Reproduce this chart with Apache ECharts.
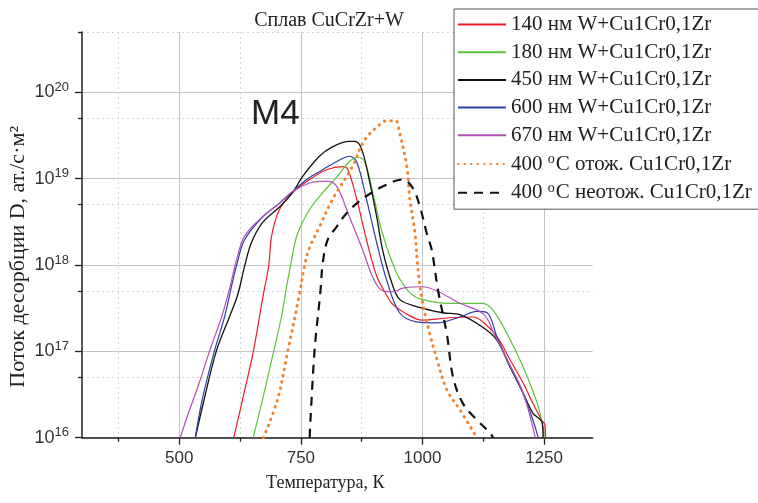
<!DOCTYPE html>
<html><head><meta charset="utf-8">
<script src="https://cdn.jsdelivr.net/npm/echarts@6/dist/echarts.min.js"></script>
<style>html,body{margin:0;padding:0;background:#fff}#c{width:758px;height:503px}</style>
</head><body><div id="c"></div>
<script>
// ---- Data (temperature, K ; desorption flux, at./s·m²) ----
const seriesNames = ['140 нм W+Cu1Cr0,1Zr','180 нм W+Cu1Cr0,1Zr','450 нм W+Cu1Cr0,1Zr','600 нм W+Cu1Cr0,1Zr','670 нм W+Cu1Cr0,1Zr','400 {sup|o}C отож. Cu1Cr0,1Zr','400 {sup|o}C неотож. Cu1Cr0,1Zr'];

const t140 = [612,630,652,671,684,690,706,733,768,803,836,846,865,885,906,926,939,970,999,1056,1104,1124,1153,1180,1207,1227,1245,1252,1253];
const v140 = [1e16,2.75e16,9.8e16,4e17,1e18,2.2e18,4.4e18,6.9e18,9.8e18,1.27e19,1.38e19,1.3e19,5.75e18,1.95e18,7.4e17,4.5e17,3.5e17,2.66e17,2.3e17,2.45e17,2.5e17,2.2e17,1.48e17,8e16,4.3e16,2.5e16,1.6e16,1.4e16,1e16];

const t180 = [652,671,694,710,722,729,743,768,795,824,850,867,881,898,918,947,974,999,1056,1124,1145,1174,1207,1236,1248,1250];
const v180 = [1e16,2.75e16,1e17,2.5e17,6.2e17,1e18,2.3e18,4.4e18,6.9e18,1.05e19,1.58e19,1.76e19,1.58e19,6.9e18,2.3e18,8.1e17,4.8e17,4e17,3.6e17,3.6e17,3e17,1.6e17,6.6e16,2.5e16,1.32e16,1e16];

const t450 = [533,551,576,603,620,634,648,671,706,733,753,788,815,850,861,875,892,906,918,937,953,988,1042,1077,1124,1153,1180,1207,1227,1246,1248];
const v450 = [1e16,2.75e16,1e17,2.5e17,4.5e17,9.5e17,1.8e18,3.1e18,4.7e18,6.9e18,1.05e19,1.82e19,2.34e19,2.7e19,2.7e19,2.2e19,8.9e18,3.6e18,1.5e18,6.2e17,4e17,3.3e17,2.8e17,2.66e17,1.9e17,1.35e17,6.6e16,3.3e16,1.93e16,1.5e16,1e16];

const t600 = [533,547,572,593,609,618,634,671,706,733,762,795,824,850,865,885,906,926,953,988,1030,1077,1112,1133,1153,1174,1201,1225,1238];
const v600 = [1e16,2.75e16,1e17,2.5e17,6.2e17,1e18,1.95e18,3.6e18,5.2e18,7.1e18,9.8e18,1.27e19,1.58e19,1.82e19,1.55e19,5.75e18,1.8e18,6.8e17,2.8e17,2.2e17,2.14e17,2.5e17,2.9e17,2.8e17,1.48e17,8e16,3.9e16,1.74e16,1e16];

const t670 = [502,516,541,562,587,604,615,630,645,671,706,733,768,790,805,824,850,877,897,916,939,960,999,1030,1077,1118,1133,1145,1174,1207,1232];
const v670 = [1e16,1.74e16,4.3e16,1e17,2.5e17,5.5e17,1e18,1.95e18,2.6e18,3.6e18,5.2e18,7.1e18,8.9e18,9.3e18,9.3e18,8.1e18,3.6e18,1.5e18,7.4e17,5.1e17,4.9e17,5.4e17,5.6e17,5e17,3.6e17,2.9e17,2.4e17,1.7e17,8e16,3.3e16,1e16];

const tAnn = [673,702,723,745,758,768,788,815,856,881,918,930,945,953,968,974,984,990,999,1015,1030,1050,1077,1112];
const vAnn = [1e16,2.75e16,1e17,4e17,1e18,1.6e18,2.75e18,5.75e18,1.38e19,2.8e19,4.5e19,4.7e19,4.7e19,3.4e19,1.38e19,5.75e18,2.5e18,1e18,4e17,1.6e17,8e16,3.6e16,2.1e16,1e16];

const tNon = [768,778,790,795,805,823,844,875,918,959,980,995,1009,1019,1032,1050,1063,1083,1112,1139,1145];
const vNon = [1e16,1e17,4.8e17,1.05e18,1.95e18,2.75e18,3.98e18,5.75e18,8.1e18,9.8e18,7.8e18,4.7e18,2.3e18,1.5e18,5.1e17,1.6e17,5e16,2.5e16,1.6e16,1.14e16,1e16];

// ---- Axis ticks ----
const xMajorTicks = [500,750,1000,1250];
const xMinorTicks = [375,625,875,1125];
const yMajorTicks = [1e16,1e17,1e18,1e19,1e20];
const yMinorTicks = [5e16,5e17,5e18,5e19,5e20];
const xMin = 300, xMax = 1350;
const yMin = 1e16, yMax = 5e20;

const L = Math.log10;
const pairs = (t, v) => t.map((x, i) => [x, L(v[i])]);

const serif = 'Liberation Serif';
const sans = 'Liberation Sans';

const styles = [
  {color:'#ee1c24', type:'solid', width:1.2},
  {color:'#5cc43a', type:'solid', width:1.2},
  {color:'#111111', type:'solid', width:1.3},
  {color:'#2b40a8', type:'solid', width:1.2},
  {color:'#b050b8', type:'solid', width:1.2},
  {color:'#f5822c', type:[0.5,6], width:3, cap:'round'},
  {color:'#111111', type:[9,7], width:2.2}
];
const datasets = [pairs(t140,v140),pairs(t180,v180),pairs(t450,v450),pairs(t600,v600),pairs(t670,v670),pairs(tAnn,vAnn),pairs(tNon,vNon)];

const series = datasets.map((d, i) => ({
  name: seriesNames[i], type:'line', data:d, xAxisIndex:0, yAxisIndex:0,
  symbol:'none', smooth:0.35,
  lineStyle: Object.assign({}, styles[i]), itemStyle:{color:styles[i].color},
  z: 3
}));

const chart = echarts.init(document.getElementById('c'), null, {renderer:'canvas'});
chart.setOption({
  animation:false,
  backgroundColor:'#fff',
  grid:{left:82, top:32, right:165.3, bottom:65.3, containLabel:false, outerBoundsMode:'none'},
  title:{text:'Сплав CuCrZr+W', left:324, top:6, textAlign:'center',
    textStyle:{fontFamily:serif, fontSize:20, fontWeight:'normal', color:'#222'}},
  graphic:[{type:'text', left:251, top:97, z:10,
    style:{text:'M4', font:'35px "Liberation Sans"', fill:'#222'}}],
  legend:{
    orient:'vertical', left:454, top:9, padding:[5,40,6,3],
    itemWidth:48, itemHeight:20, itemGap:6.7,
    itemStyle:{opacity:0},
    backgroundColor:'#fff', borderColor:'#555', borderWidth:1,
    textStyle:{fontFamily:serif, fontSize:21, color:'#222', lineHeight:20,
      rich:{sup:{fontFamily:serif, fontSize:14, padding:[0,1,9,0], color:'#222'}}},
    data: seriesNames
  },
  xAxis:[
    {type:'value', min:xMin, max:xMax, position:'bottom',
     name:'Температура, К', nameLocation:'middle', nameGap:37, nameMoveOverlap:false,
     nameTextStyle:{fontFamily:serif, fontSize:18, color:'#222', padding:[0,24,0,0]},
     axisLine:{show:true, onZero:false, lineStyle:{color:'#222', width:1.5}},
     axisTick:{show:true, inside:false, length:7, customValues:xMajorTicks, lineStyle:{color:'#222', width:1.3}},
     axisLabel:{customValues:xMajorTicks, margin:12, fontFamily:sans, fontSize:17, color:'#333', formatter:v => String(v)},
     splitLine:{show:true, lineStyle:{color:'#c4c4c4', width:1}}},
    {type:'value', min:xMin, max:xMax, position:'bottom',
     axisLine:{show:false},
     axisTick:{show:true, inside:false, length:4, customValues:xMinorTicks, lineStyle:{color:'#222', width:1.3}},
     axisLabel:{show:false},
     splitLine:{show:true, lineStyle:{color:'#d4d4d4', width:1, type:[2,3]}}}
  ],
  yAxis:[
    {type:'value', min:L(yMin), max:L(yMax), position:'left',
     name:'Поток десорбции D, ат./с·м²', nameLocation:'middle', nameGap:53, nameRotate:90, nameMoveOverlap:false,
     nameTextStyle:{fontFamily:serif, fontSize:22, color:'#222', padding:[0,44,0,0]},
     axisLine:{show:true, onZero:false, lineStyle:{color:'#222', width:1.5}},
     axisTick:{show:true, inside:false, length:7, customValues:yMajorTicks.map(L), lineStyle:{color:'#222', width:1.3}},
     axisLabel:{customValues:yMajorTicks.map(L), margin:13,
       formatter:v => '{b|10}{s|' + Math.round(v) + '}',
       rich:{b:{fontFamily:sans, fontSize:18, color:'#333'},
             s:{fontFamily:sans, fontSize:13, color:'#333', padding:[0,0,10,0]}}},
     splitLine:{show:true, lineStyle:{color:'#c4c4c4', width:1}}},
    {type:'value', min:L(yMin), max:L(yMax), position:'left',
     axisLine:{show:false},
     axisTick:{show:true, inside:false, length:4, customValues:yMinorTicks.map(L), lineStyle:{color:'#222', width:1.3}},
     axisLabel:{show:false},
     splitLine:{show:true, lineStyle:{color:'#d4d4d4', width:1, type:[2,3]}}}
  ],
  series: series
});
</script></body></html>
